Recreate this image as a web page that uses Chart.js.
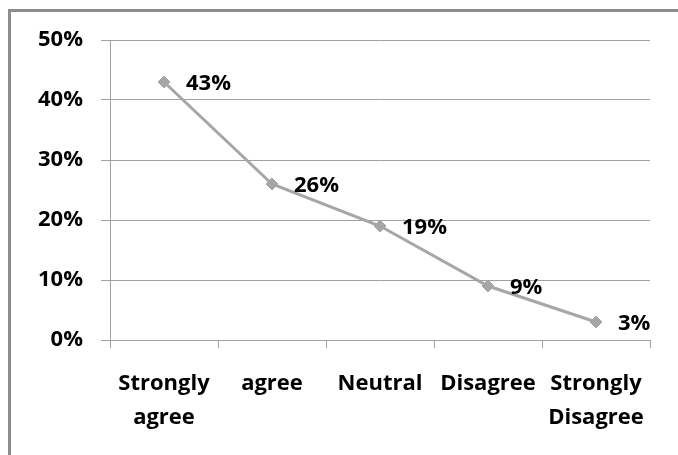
<!DOCTYPE html>
<html>
<head>
<meta charset="utf-8">
<script src="https://cdn.jsdelivr.net/npm/chart.js@4/dist/chart.umd.min.js"></script>
<style>
  html, body { margin: 0; padding: 0; background: #ffffff; }
  #wrap { position: relative; width: 678px; height: 455px; overflow: hidden; }
  #frame { position: absolute; left: 8px; top: 9px; width: 800px; height: 600px;
           border-left: 3px solid #8c8c8c; border-top: 3px solid #8c8c8c; }
  canvas { position: absolute; left: 0; top: 0; }
</style>
</head>
<body>
<div id="wrap">
  <div id="frame"></div>
  <canvas id="chart" width="678" height="455"></canvas>
</div>
<script>
// Survey responses: share of answers per agreement level (percent)
const categories = [['Strongly', 'agree'], 'agree', 'Neutral', 'Disagree', ['Strongly', 'Disagree']];
const shares = [43, 26, 19, 9, 3];
const yTicks = [0, 10, 20, 30, 40, 50];

const FONT = '"Open Sans", "Noto Sans", sans-serif';
const LINE = '#a6a6a6';
const GRID = '#a0a0a0';

// Writes each point's value to the right of its marker
const valueLabels = {
  id: 'valueLabels',
  afterDatasetsDraw(chart) {
    const ctx = chart.ctx;
    const meta = chart.getDatasetMeta(0);
    ctx.save();
    ctx.font = 'bold 22px ' + FONT;
    ctx.fillStyle = '#000000';
    ctx.textAlign = 'left';
    ctx.textBaseline = 'middle';
    meta.data.forEach((pt, i) => {
      ctx.fillText(shares[i] + '%', pt.x + 22, pt.y + 2);
    });
    ctx.restore();
  }
};

new Chart(document.getElementById('chart'), {
  type: 'line',
  data: {
    labels: categories,
    datasets: [{
      data: shares,
      borderColor: LINE,
      borderWidth: 3,
      pointStyle: 'rectRot',
      pointRadius: 6,
      pointBackgroundColor: LINE,
      pointBorderColor: LINE,
      pointBorderWidth: 1,
      tension: 0,
      clip: false
    }]
  },
  options: {
    responsive: false,
    animation: false,
    layout: { padding: { top: 40, right: 28, left: 0, bottom: 0 } },
    plugins: { legend: { display: false }, tooltip: { enabled: false } },
    scales: {
      x: {
        offset: true,
        grid: { display: true, offset: true, drawOnChartArea: false, drawTicks: true,
                tickLength: 8, color: GRID, lineWidth: 1 },
        border: { display: true, color: GRID, width: 1 },
        ticks: { color: '#000000', padding: 19, maxRotation: 0, autoSkip: false,
                 font: { family: FONT, size: 22, weight: 'bold', lineHeight: '34px' } },
        afterFit(scale) { scale.height = 115; }
      },
      y: {
        min: 0,
        max: 50,
        afterBuildTicks(scale) { scale.ticks = yTicks.map(v => ({ value: v })); },
        grid: { color: GRID, lineWidth: 1, tickLength: 9, drawTicks: true },
        border: { display: true, color: GRID, width: 1 },
        ticks: { color: '#000000', padding: 18, callback: v => v + '%',
                 font: { family: FONT, size: 22, weight: 'bold' } },
        afterFit(scale) { scale.width = 110; }
      }
    }
  },
  plugins: [valueLabels]
});
</script>
</body>
</html>
